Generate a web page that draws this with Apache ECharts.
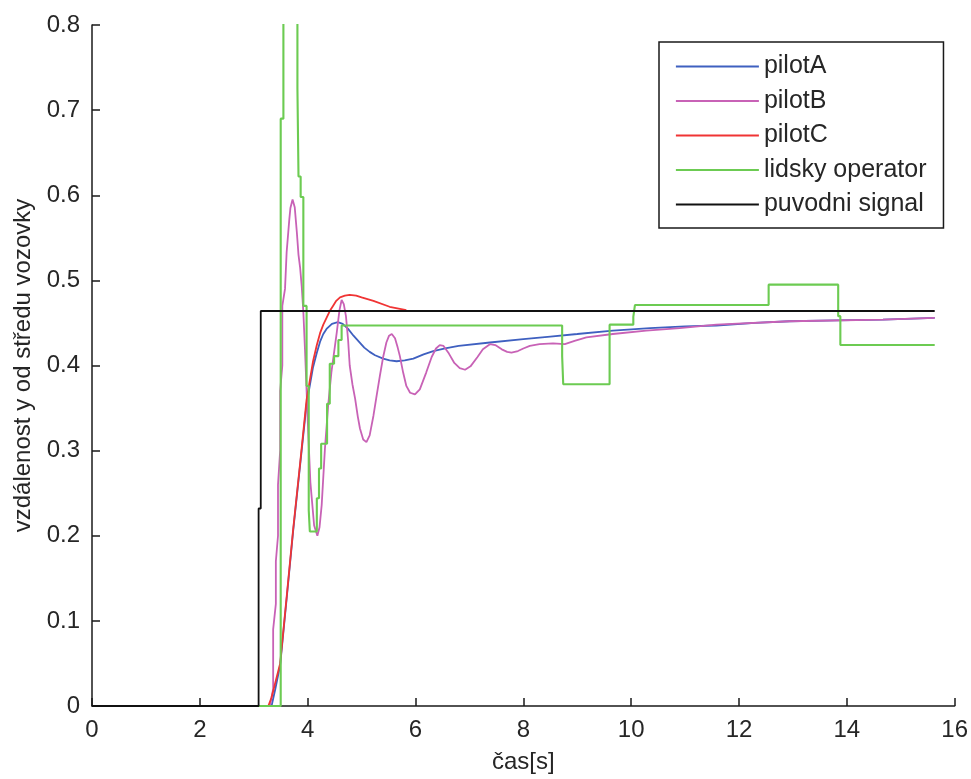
<!DOCTYPE html>
<html>
<head>
<meta charset="utf-8">
<title>vzdálenost y od středu vozovky</title>
<script src="https://cdn.jsdelivr.net/npm/echarts@6/dist/echarts.min.js"></script>
<style>
  html, body { margin: 0; padding: 0; background: #ffffff; }
  #chart { width: 971px; height: 779px; }
</style>
</head>
<body>
<div id="chart"></div>
<script>
// Responses of the lateral-position controllers: [time s, distance]
const seriesNames = ['pilotA', 'pilotB', 'pilotC', 'lidsky operator', 'puvodni signal'];

const pilotA = [
  [0, 0], [3.33, 0], [3.40, 0.02], [3.49, 0.048], [3.61, 0.126], [3.73, 0.205],
  [3.86, 0.283], [3.98, 0.355], [4.10, 0.398], [4.17, 0.415], [4.23, 0.428],
  [4.29, 0.437], [4.35, 0.443], [4.45, 0.449], [4.56, 0.451], [4.65, 0.449],
  [4.75, 0.443], [4.85, 0.435], [4.95, 0.428], [5.05, 0.421], [5.15, 0.416],
  [5.25, 0.412], [5.40, 0.408], [5.52, 0.406], [5.65, 0.405], [5.80, 0.406],
  [5.96, 0.408], [6.15, 0.413], [6.33, 0.417], [6.55, 0.420], [6.80, 0.423],
  [7.38, 0.427], [8.00, 0.431], [8.50, 0.434], [9.00, 0.437], [9.66, 0.441],
  [10.35, 0.444], [11.00, 0.446], [11.58, 0.447], [12.30, 0.450], [12.94, 0.452],
  [13.80, 0.453], [14.67, 0.454], [15.63, 0.456]
];

const pilotB = [
  [0, 0], [3.30, 0], [3.36, 0.02], [3.36, 0.09], [3.41, 0.12], [3.41, 0.17],
  [3.45, 0.20], [3.45, 0.26], [3.49, 0.30], [3.49, 0.37], [3.53, 0.40],
  [3.53, 0.47], [3.58, 0.49], [3.61, 0.533], [3.66, 0.572], [3.68, 0.585],
  [3.72, 0.595], [3.76, 0.586], [3.80, 0.556], [3.83, 0.530], [3.86, 0.515],
  [3.89, 0.493], [3.92, 0.463], [3.95, 0.419], [4.01, 0.322], [4.05, 0.263],
  [4.12, 0.212], [4.18, 0.200], [4.22, 0.210], [4.26, 0.236], [4.32, 0.302],
  [4.38, 0.353], [4.44, 0.392], [4.54, 0.439], [4.59, 0.465], [4.63, 0.477],
  [4.67, 0.472], [4.71, 0.458], [4.75, 0.430], [4.78, 0.400], [4.83, 0.378],
  [4.88, 0.361], [4.93, 0.340], [4.97, 0.326], [5.03, 0.313], [5.09, 0.310],
  [5.15, 0.318], [5.22, 0.341], [5.28, 0.365], [5.34, 0.388], [5.40, 0.410],
  [5.46, 0.427], [5.51, 0.435], [5.56, 0.437], [5.62, 0.432], [5.67, 0.421],
  [5.71, 0.411], [5.77, 0.392], [5.83, 0.376], [5.90, 0.368], [5.99, 0.366],
  [6.08, 0.372], [6.20, 0.392], [6.30, 0.410], [6.38, 0.420], [6.45, 0.424],
  [6.52, 0.423], [6.62, 0.414], [6.72, 0.403], [6.82, 0.397], [6.92, 0.395],
  [7.02, 0.399], [7.15, 0.410], [7.25, 0.419], [7.38, 0.425], [7.48, 0.424],
  [7.60, 0.419], [7.70, 0.416], [7.78, 0.415], [7.90, 0.417], [8.00, 0.420],
  [8.12, 0.423], [8.30, 0.425], [8.55, 0.426], [8.77, 0.425], [8.95, 0.429],
  [9.17, 0.433], [9.66, 0.437], [10.28, 0.441], [10.90, 0.444], [11.58, 0.448],
  [12.94, 0.452], [14.67, 0.454], [15.63, 0.456]
];

const pilotC = [
  [0, 0], [3.27, 0], [3.33, 0.01], [3.49, 0.050], [3.61, 0.128], [3.73, 0.207],
  [3.86, 0.285], [3.98, 0.360], [4.10, 0.405], [4.17, 0.424], [4.23, 0.438],
  [4.29, 0.448], [4.35, 0.456], [4.41, 0.464], [4.47, 0.470], [4.53, 0.476],
  [4.60, 0.480], [4.69, 0.482], [4.78, 0.483], [4.90, 0.482], [5.00, 0.480],
  [5.22, 0.476], [5.52, 0.469], [5.83, 0.465]
];

const lidskyOperator = [
  [0, 0], [3.50, 0], [3.50, 0.69], [3.55, 0.69], [3.55, 0.92], [3.81, 0.92],
  [3.81, 0.726], [3.83, 0.726], [3.83, 0.622], [3.87, 0.622], [3.87, 0.598],
  [3.92, 0.598], [3.92, 0.470], [3.98, 0.470], [3.98, 0.376], [4.02, 0.376],
  [4.02, 0.230], [4.04, 0.230], [4.04, 0.205], [4.17, 0.205], [4.17, 0.244],
  [4.21, 0.244], [4.21, 0.279], [4.25, 0.279], [4.25, 0.308], [4.36, 0.308],
  [4.36, 0.355], [4.41, 0.355], [4.41, 0.402], [4.49, 0.402], [4.49, 0.411],
  [4.57, 0.411], [4.57, 0.430], [4.63, 0.430], [4.63, 0.447], [8.72, 0.447],
  [8.72, 0.411], [8.74, 0.411], [8.74, 0.378], [9.60, 0.378], [9.60, 0.448],
  [10.04, 0.448], [10.04, 0.457], [10.07, 0.457], [10.07, 0.471], [12.55, 0.471],
  [12.55, 0.495], [13.84, 0.495], [13.84, 0.458], [13.88, 0.458], [13.88, 0.424],
  [15.63, 0.424]
];

const puvodniSignal = [
  [0, 0], [3.09, 0], [3.09, 0.232], [3.13, 0.232], [3.13, 0.464], [15.63, 0.464]
];

const xTicks = [0, 2, 4, 6, 8, 10, 12, 14, 16];
const yTicks = ['0', '0.1', '0.2', '0.3', '0.4', '0.5', '0.6', '0.7', '0.8'];

const colors = ['#3f60c0', '#c862b6', '#f03434', '#6ccb52', '#111111'];
const widths = [1.8, 1.8, 1.8, 2.1, 1.8];
const seriesData = [pilotA, pilotB, pilotC, lidskyOperator, puvodniSignal];

const FONT = '"Liberation Sans", Arial, sans-serif';
const TXT = '#262626';

const chart = echarts.init(document.getElementById('chart'), null, { renderer: 'canvas' });

chart.setOption({
  animation: false,
  backgroundColor: '#ffffff',
  textStyle: { fontFamily: FONT },
  grid: { left: 92, right: 16, top: 25, bottom: 71, containLabel: false },
  xAxis: {
    type: 'value',
    min: xTicks[0],
    max: xTicks[xTicks.length - 1],
    interval: 2,
    name: 'čas[s]',
    nameLocation: 'middle',
    nameGap: 44,
    nameTextStyle: { fontSize: 24, color: TXT, fontFamily: FONT },
    axisLine: { onZero: false, lineStyle: { color: '#1a1a1a', width: 1.5 } },
    axisTick: { inside: true, length: 8, lineStyle: { color: '#1a1a1a', width: 1.5 } },
    axisLabel: { fontSize: 24, color: TXT, margin: 12, fontFamily: FONT },
    splitLine: { show: false }
  },
  yAxis: {
    type: 'value',
    min: 0,
    max: 0.8,
    interval: 0.1,
    name: 'vzdálenost y od středu vozovky',
    nameLocation: 'middle',
    nameGap: 55,
    nameTextStyle: { fontSize: 24, color: TXT, fontFamily: FONT },
    axisLine: { show: true, onZero: false, lineStyle: { color: '#1a1a1a', width: 1.5 } },
    axisTick: { show: true, inside: true, length: 8, lineStyle: { color: '#1a1a1a', width: 1.5 } },
    axisLabel: {
      fontSize: 24, color: TXT, margin: 12, fontFamily: FONT,
      formatter: (v) => yTicks[Math.round(v * 10)]
    },
    splitLine: { show: false }
  },
  legend: {
    orient: 'vertical',
    left: 659,
    top: 42,
    padding: [12, 17, 11, 16],
    itemGap: 9.5,
    itemWidth: 83,
    itemHeight: 24,
    borderColor: '#1a1a1a',
    borderWidth: 1.5,
    backgroundColor: '#ffffff',
    itemStyle: { opacity: 0 },
    lineStyle: { width: 1.8 },
    textStyle: { fontSize: 25, color: TXT, fontFamily: FONT, lineHeight: 24 },
    data: seriesNames
  },
  series: seriesNames.map((name, i) => ({
    name: name,
    type: 'line',
    data: seriesData[i],
    symbol: 'none',
    showSymbol: false,
    clip: true,
    color: colors[i],
    lineStyle: { color: colors[i], width: widths[i] },
    z: 2 + i
  }))
});
</script>
</body>
</html>
